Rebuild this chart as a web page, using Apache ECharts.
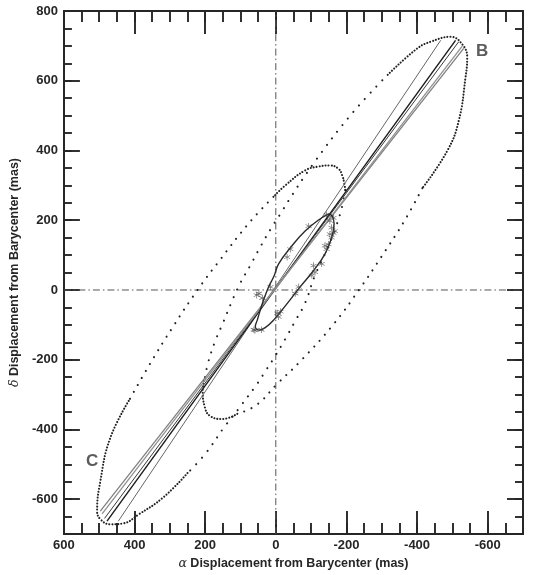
<!DOCTYPE html>
<html><head><meta charset="utf-8">
<script src="https://cdn.jsdelivr.net/npm/echarts@6/dist/echarts.min.js"></script>
<style>html,body{margin:0;padding:0;background:#fff}#c{width:534px;height:575px}</style>
</head><body><div id="c"></div>
<script>
// ---------- tick labels ----------
const xMajor = [600, 400, 200, 0, -200, -400, -600];
const yMajor = [-600, -400, -200, 0, 200, 400, 600, 800];

// ---------- orbit B (dotted, dense near tips, sparse elsewhere) ----------
const orbitB_tipDense = [[-317,617],[-401,693],[-439,712],[-495,726],[-529,703],[-542,666],[-537,608],[-518,485],[-486,400],[-415,292]];
const orbitB_rightSparse = [[-415,292],[-364,198],[-298,94],[-238,4],[-158,-105],[-65,-209],[-4,-269],[55,-330],[109,-355]];
const orbitB_hookDense = [[109,-355],[151,-370],[185,-362],[201,-336],[207,-284],[200,-250]];
const orbitB_leftSparse = [[200,-250],[193,-213],[171,-145],[148,-91],[127,-39],[102,17],[72,71],[42,127],[12,179],[-18,226],[-32,250],[-107,363],[-214,504],[-317,617]];

// ---------- orbit C ----------
const orbitC_hookDense = [[2,272],[-27,300],[-83,343],[-121,354],[-153,357],[-177,348],[-188,329],[-194,305],[-197,286]];
const orbitC_rightSparse = [[-197,286],[-188,240],[-168,175],[-142,110],[-111,42],[-83,-37],[-55,-89],[-27,-140],[1,-188],[29,-232],[57,-275],[99,-332],[127,-369],[146,-393],[200,-470],[250,-525]];
const orbitC_tipDense = [[250,-525],[319,-595],[389,-644],[431,-669],[469,-672],[496,-658],[506,-634],[497,-549],[469,-425],[413,-312]];
const orbitC_leftSparse = [[413,-312],[357,-213],[291,-105],[221,1],[159,85],[75,193],[2,272]];

// ---------- nearly edge-on solutions (solid lines) ----------
const thinLine = [[446,-663],[-467,716]];
const darkLine = [[478,-663],[-509,716]];
const darkLine2 = [[485,-655],[-518,712]];
const grayLine1 = [[497,-634],[-532,693]];
const grayLine2 = [[492,-642],[-528,699]];

// ---------- small photocentre orbit ----------
const smallOrbit = [[-150,218],[-120,200],[-83,169],[-46,127],[-8,75],[5,40],[22,5],[40,-45],[52,-85],[58,-105],[48,-115],[30,-108],[5,-85],[-32,-39],[-69,9],[-107,56],[-139,103],[-158,150],[-165,190],[-160,212],[-150,218]];

// ---------- observations (asterisks) ----------
const obs = [[-144,216],[-163,207],[-153,198],[-158,179],[-163,164],[-167,169],[-153,160],[-158,150],[-149,131],[-139,127],[-144,117],[-130,75],[-107,70],[-111,51],[-102,42],[-93,183],[-41,117],[-32,94],[-65,9],[-55,-10],[-4,-67],[-13,-62],[-8,-77],[54,-15],[38,-23],[48,-10],[59,-116],[41,-114],[62,-114],[15,9]];

// ---------- text labels ----------
const tagNames = ['B', 'C'];
const tagX = [-584, 520];
const tagY = [684, -492];

// ---------- crosshair ----------
const vCross = [[0,-700],[0,800]];
const hCross = [[600,0],[-700,0]];

const FONT = '"Liberation Sans", Arial, Helvetica, sans-serif';
const INK = '#262626';
const chart = echarts.init(document.getElementById('c'), null, {renderer: 'canvas'});

function xAx(pos, tickLen, custom, withLabel) {
  const a = {
    type: 'value', min: -700, max: 600, inverse: true, position: pos,
    splitLine: {show: false},
    axisLine: {show: true, onZero: false, lineStyle: {color: INK, width: 1.8}},
    axisTick: {show: true, inside: true, length: tickLen, lineStyle: {color: INK, width: 1.9}},
    axisLabel: {show: false}
  };
  if (custom) a.axisTick.customValues = xMajor; else a.interval = 50;
  if (withLabel) {
    a.axisLabel = {show: true, customValues: xMajor, color: INK, fontFamily: FONT, fontWeight: 'bold', fontSize: 13, margin: 5};
    a.name = '{g|α} Displacement from Barycenter (mas)';
    a.nameLocation = 'middle';
    a.nameGap = 20;
    a.nameTextStyle = {color: INK, fontFamily: FONT, fontWeight: 'bold', fontSize: 12.5,
      rich: {g: {fontFamily: '"DejaVu Serif", serif', fontStyle: 'italic', fontWeight: 'normal', fontSize: 12.5, color: INK}}};
  }
  return a;
}
function yAx(pos, tickLen, custom, withLabel) {
  const a = {
    type: 'value', min: -700, max: 800, position: pos,
    splitLine: {show: false},
    axisLine: {show: true, onZero: false, lineStyle: {color: INK, width: 1.8}},
    axisTick: {show: true, inside: true, length: tickLen, lineStyle: {color: INK, width: 1.9}},
    axisLabel: {show: false}
  };
  if (custom) a.axisTick.customValues = yMajor; else a.interval = 50;
  if (withLabel) {
    a.axisLabel = {show: true, customValues: yMajor, color: INK, fontFamily: FONT, fontWeight: 'bold', fontSize: 13, margin: 6};
    a.name = '{g|δ} Displacement from Barycenter (mas)';
    a.nameLocation = 'middle';
    a.nameGap = 40;
    a.nameRotate = 90;
    a.nameTextStyle = {color: INK, fontFamily: FONT, fontWeight: 'bold', fontSize: 12.5,
      rich: {g: {fontFamily: '"DejaVu Serif", serif', fontStyle: 'italic', fontWeight: 'normal', fontSize: 12.5, color: INK}}};
  }
  return a;
}

function dotted(data, gap, w) {
  return {type: 'line', data: data, smooth: 0.45, showSymbol: false, symbol: 'none', silent: true, z: 3,
    lineStyle: {color: '#222', width: w || 2.1, type: [0.01, gap], cap: 'round'}};
}
function solid(data, color, width) {
  return {type: 'line', data: data, showSymbol: false, symbol: 'none', silent: true, z: 4,
    lineStyle: {color: color, width: width}};
}

const star = 'path://M4.5 0H5.5V10H4.5Z M0.42 2.93L9.08 7.93L9.58 7.07L0.92 2.07Z M0.92 7.93L9.58 2.93L9.08 2.07L0.42 7.07Z';

chart.setOption({
  animation: false,
  backgroundColor: '#fff',
  grid: {left: 60, right: 11, top: 11, bottom: 35, containLabel: false},
  xAxis: [xAx('bottom', 11, false, true), xAx('bottom', 23, true, false), xAx('top', 11, false, false), xAx('top', 23, true, false)],
  yAxis: [yAx('left', 8, false, true), yAx('left', 16, true, false), yAx('right', 8, false, false), yAx('right', 16, true, false)],
  series: [
    {type: 'line', data: vCross, showSymbol: false, symbol: 'none', silent: true, z: 2,
      lineStyle: {color: '#555', width: 1, type: [7, 3, 1.5, 3]}},
    {type: 'line', data: hCross, showSymbol: false, symbol: 'none', silent: true, z: 2,
      lineStyle: {color: '#555', width: 1, type: [7, 3, 1.5, 3]}},
    dotted(orbitB_tipDense, 3),
    dotted(orbitB_rightSparse, 8),
    dotted(orbitB_hookDense, 3),
    dotted(orbitB_leftSparse, 8.5),
    dotted(orbitC_hookDense, 3),
    dotted(orbitC_rightSparse, 8.5),
    dotted(orbitC_tipDense, 3),
    dotted(orbitC_leftSparse, 8),
    solid(thinLine, '#555', 0.9),
    solid(darkLine, '#1a1a1a', 1.4),
    solid(darkLine2, '#3a3a3a', 1),
    solid(grayLine1, '#808080', 1.3),
    solid(grayLine2, '#909090', 1.3),
    {type: 'line', data: smallOrbit, smooth: 0.45, showSymbol: false, symbol: 'none', silent: true, z: 5,
      lineStyle: {color: '#2a2a2a', width: 1.4}},
    {type: 'scatter', data: obs, symbol: star, symbolSize: 6.5, silent: true, z: 6,
      itemStyle: {color: '#444'}},
    {type: 'scatter', data: tagX.map((x, i) => ({value: [x, tagY[i]], name: tagNames[i]})),
      symbolSize: 0, silent: true, z: 7,
      label: {show: true, position: 'inside', formatter: '{b}', color: '#333', fontFamily: FONT, fontWeight: 'bold', fontSize: 17}}
  ]
});
</script>
</body></html>
